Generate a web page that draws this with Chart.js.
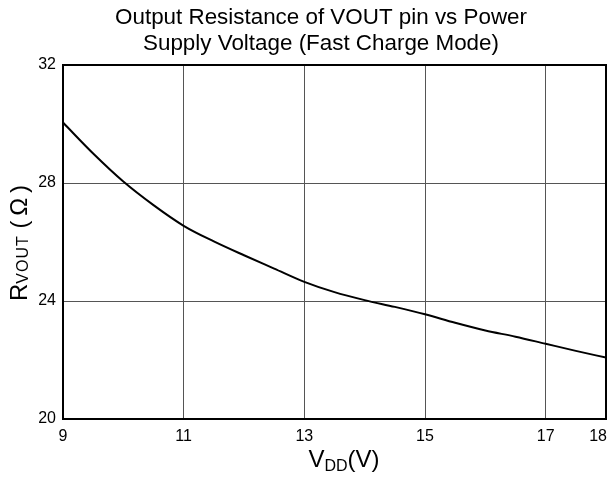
<!DOCTYPE html>
<html>
<head>
<meta charset="utf-8">
<script src="https://cdn.jsdelivr.net/npm/chart.js@4"></script>
<style>
  body { margin: 0; background: #fff; }
  #wrap { width: 611px; height: 479px; }
</style>
</head>
<body>
<div id="wrap"><canvas id="chart" width="611" height="479"></canvas></div>
<script>
// values
const vdd = [9, 9.5, 10, 10.5, 11, 11.5, 12, 12.5, 13, 13.5, 14, 14.5, 15, 15.5, 16, 16.5, 17, 17.5, 18];
const rvout = [30.05, 29.0, 28.05, 27.25, 26.55, 26.02, 25.55, 25.1, 24.65, 24.3, 24.03, 23.8, 23.55, 23.26, 23.0, 22.79, 22.55, 22.31, 22.08];
const xTicks = [9, 11, 13, 15, 17, 18];
const yTicks = [20, 24, 28, 32];
const titleLines = ["Output Resistance of VOUT pin vs Power", "Supply Voltage (Fast Charge Mode)"];

const FONT = "'Liberation Sans', Arial, sans-serif";

// text pieces: [text, size, dy, letterSpacing]
function partsWidth(ctx, parts) {
  let w = 0;
  parts.forEach(p => {
    ctx.font = p[1] + "px " + FONT;
    for (const ch of p[0]) w += ctx.measureText(ch).width + (p[3] || 0);
  });
  return w;
}

function drawParts(ctx, parts, cx, y) {
  let x = cx - partsWidth(ctx, parts) / 2;
  parts.forEach(p => {
    ctx.font = p[1] + "px " + FONT;
    for (const ch of p[0]) {
      ctx.fillText(ch, x, y + p[2]);
      x += ctx.measureText(ch).width + (p[3] || 0);
    }
  });
}

const labelsPlugin = {
  id: "labels",
  afterDraw(chart) {
    const ctx = chart.ctx;
    const a = chart.chartArea;
    const xs = chart.scales.x;
    ctx.save();
    // frame
    ctx.strokeStyle = "#000";
    ctx.lineWidth = 2;
    ctx.strokeRect(a.left, a.top, a.right - a.left, a.bottom - a.top);

    ctx.fillStyle = "#000";
    ctx.textBaseline = "alphabetic";

    // x tick labels (last one sits inside the frame edge)
    ctx.font = "16px " + FONT;
    xTicks.forEach((v, i) => {
      const last = i === xTicks.length - 1;
      ctx.textAlign = last ? "right" : "center";
      ctx.fillText(String(v), xs.getPixelForValue(v) + (last ? 1 : 0), a.bottom + 22);
    });

    ctx.textAlign = "center";
    ctx.font = "22.4px " + FONT;
    ctx.fillText(titleLines[0], 321, 23.5);
    ctx.fillText(titleLines[1], 321, 50);

    ctx.textAlign = "left";
    drawParts(ctx, [["V", 24, 0], ["DD", 16, 4], ["(V)", 24, 0]], 344, 467);

    ctx.translate(27, 243);
    ctx.rotate(-Math.PI / 2);
    drawParts(ctx, [["R", 24, 0, 0], ["VOUT", 16, 1, 1], [" (\u2009\u03A9\u2009)", 24, 0, 0]], 0, 0);
    ctx.restore();
  }
};

new Chart(document.getElementById("chart"), {
  type: "line",
  data: {
    datasets: [{
      data: vdd.map((v, i) => ({ x: v, y: rvout[i] })),
      borderColor: "#000",
      borderWidth: 2,
      pointRadius: 0,
      fill: false,
      cubicInterpolationMode: "monotone"
    }]
  },
  options: {
    responsive: false,
    animation: false,
    layout: { padding: { top: 65, right: 5, left: 0, bottom: 0 } },
    plugins: { legend: { display: false }, tooltip: { enabled: false } },
    scales: {
      x: {
        type: "linear",
        min: 9,
        max: 18,
        afterBuildTicks: s => { s.ticks = xTicks.map(v => ({ value: v })); },
        afterFit: s => { s.height = 60; s.paddingLeft = 0; s.paddingRight = 0; },
        ticks: { display: false },
        grid: { color: "#555", lineWidth: 1, drawTicks: false },
        border: { color: "#000", width: 2 }
      },
      y: {
        min: 20,
        max: 32,
        afterBuildTicks: s => { s.ticks = yTicks.map(v => ({ value: v })); },
        afterFit: s => { s.width = 63; s.paddingTop = 0; s.paddingBottom = 0; },
        ticks: { color: "#000", font: { family: FONT, size: 16 }, padding: 7 },
        grid: { color: "#555", lineWidth: 1, drawTicks: false },
        border: { color: "#000", width: 2 }
      }
    }
  },
  plugins: [labelsPlugin]
});
</script>
</body>
</html>
